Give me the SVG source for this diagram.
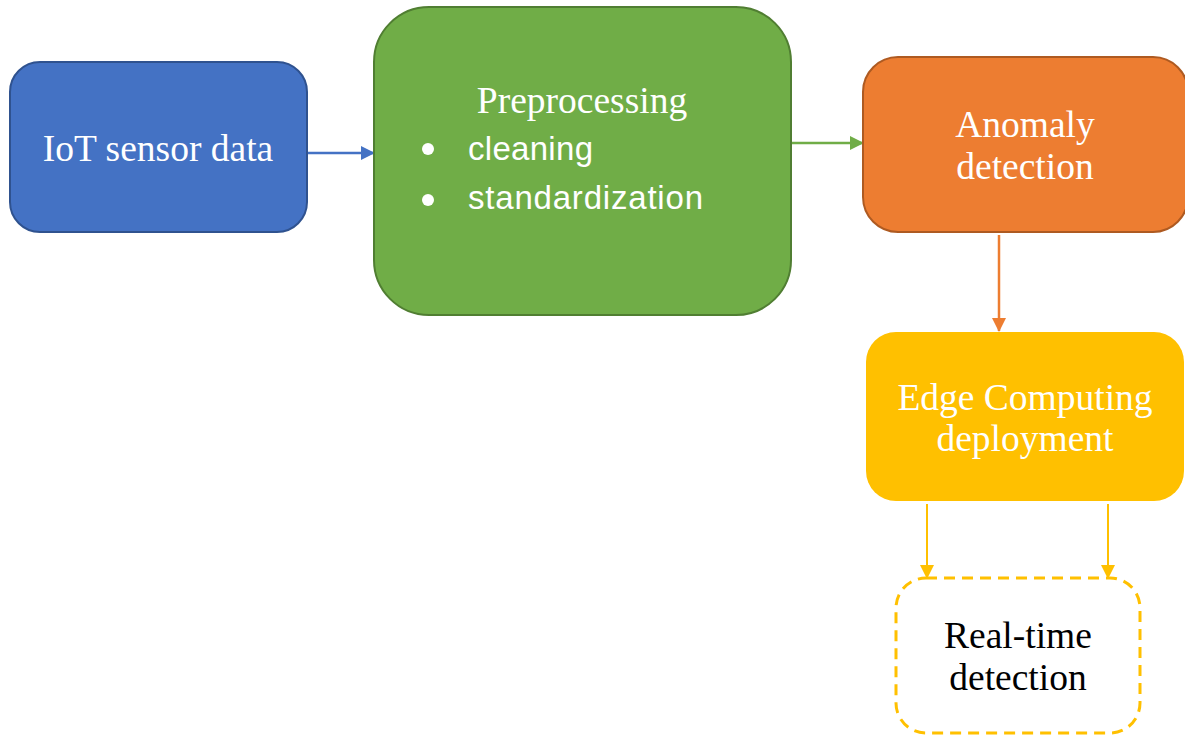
<svg xmlns="http://www.w3.org/2000/svg" width="1185" height="735" viewBox="0 0 1185 735">
<defs>
<style>
.t{font-family:"Liberation Serif","Times New Roman",serif;font-size:37.5px;fill:#fff;text-anchor:middle}
.s{font-family:"Liberation Sans",Arial,sans-serif;font-size:33px;fill:#fff}
.c{fill:none;stroke-width:2.5}
</style>
<marker id="aB" markerWidth="14" markerHeight="14" refX="13" refY="7" orient="auto" markerUnits="userSpaceOnUse" viewBox="0 0 14 14"><path d="M0,0 L14,7 L0,14 z" fill="#4472C4"/></marker>
<marker id="aG" markerWidth="14" markerHeight="14" refX="13" refY="7" orient="auto" markerUnits="userSpaceOnUse" viewBox="0 0 14 14"><path d="M0,0 L14,7 L0,14 z" fill="#70AD47"/></marker>
<marker id="aO" markerWidth="14" markerHeight="14" refX="13" refY="7" orient="auto" markerUnits="userSpaceOnUse" viewBox="0 0 14 14"><path d="M0,0 L14,7 L0,14 z" fill="#ED7D31"/></marker>
<marker id="aY" markerWidth="14" markerHeight="14" refX="13" refY="7" orient="auto" markerUnits="userSpaceOnUse" viewBox="0 0 14 14"><path d="M0,0 L14,7 L0,14 z" fill="#FFC000"/></marker>
</defs>
<rect width="1185" height="735" fill="#fff"/>
<g id="connectors">
<line class="c" x1="308" y1="153" x2="374" y2="153" stroke="#4472C4" marker-end="url(#aB)"/>
<line class="c" x1="792" y1="143" x2="863" y2="143" stroke="#70AD47" marker-end="url(#aG)"/>
<line class="c" x1="999" y1="235" x2="999" y2="331" stroke="#ED7D31" marker-end="url(#aO)"/>
<line x1="927" y1="504" x2="927" y2="578" stroke="#FFC000" stroke-width="2" marker-end="url(#aY)"/>
<line x1="1108" y1="504" x2="1108" y2="578" stroke="#FFC000" stroke-width="2" marker-end="url(#aY)"/>
</g>
<g id="iot">
<rect x="10" y="62" width="297" height="170" rx="30" fill="#4472C4" stroke="#2F528F" stroke-width="2"/>
<text class="t" x="158" y="161">IoT sensor data</text>
</g>
<g id="preprocessing">
<rect x="374" y="7" width="417" height="308" rx="55" fill="#70AD47" stroke="#507E32" stroke-width="2"/>
<text class="t" x="582" y="113">Preprocessing</text>
<circle cx="428" cy="149" r="6" fill="#fff"/>
<text class="s" x="468" y="160" textLength="125">cleaning</text>
<circle cx="428" cy="200" r="6" fill="#fff"/>
<text class="s" x="468" y="209" textLength="235">standardization</text>
</g>
<g id="anomaly">
<rect x="863" y="57" width="325" height="175" rx="35" fill="#ED7D31" stroke="#AE5A21" stroke-width="2"/>
<text class="t" x="1025" y="137">Anomaly</text>
<text class="t" x="1025" y="179">detection</text>
</g>
<g id="edge">
<rect x="866" y="332" width="318" height="169" rx="30" fill="#FFC000"/>
<text class="t" x="1025" y="410">Edge Computing</text>
<text class="t" x="1025" y="451">deployment</text>
</g>
<g id="realtime">
<rect x="896" y="578" width="244" height="155" rx="30" fill="#fff" stroke="#FFC000" stroke-width="3" stroke-dasharray="11,7"/>
<text class="t" x="1018" y="648" style="fill:#000">Real-time</text>
<text class="t" x="1018" y="690" style="fill:#000">detection</text>
</g>
</svg>
